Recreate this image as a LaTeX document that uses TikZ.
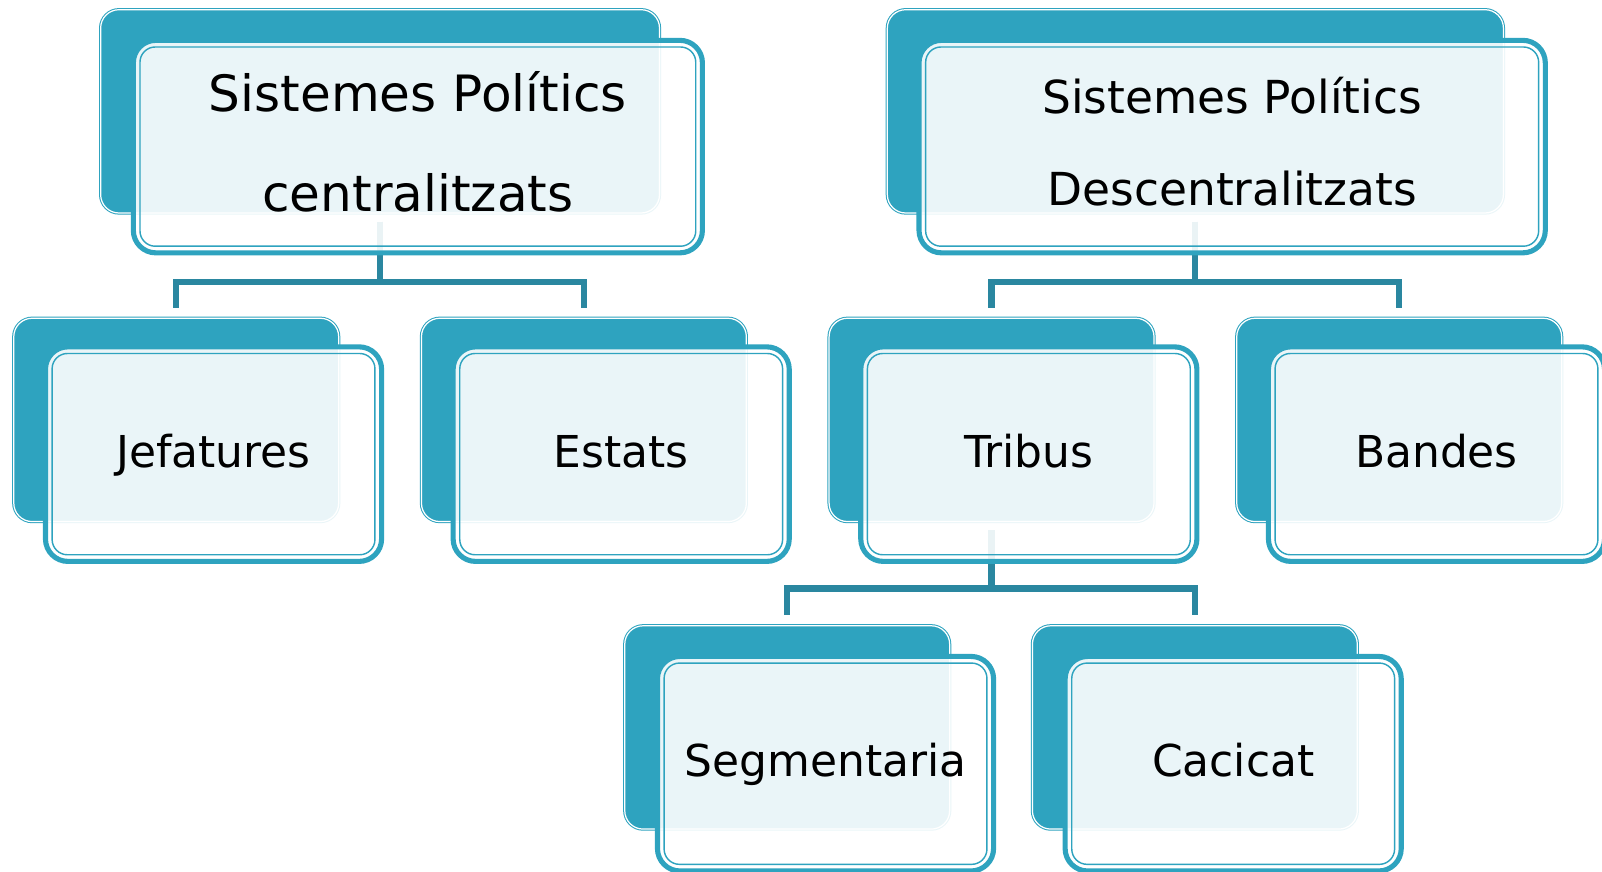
\documentclass[tikz,border=0pt]{standalone}
\usepackage{fontspec}
\setmainfont{DejaVu Sans}
\definecolor{smartteal}{HTML}{2EA3BF}
\definecolor{linkteal}{HTML}{2A87A0}
\tikzset{
  back/.style={rectangle, rounded corners=18pt, fill=smartteal, draw=smartteal,
    double=white, double distance=1.2pt, line width=1pt, minimum height=199pt, inner sep=0pt},
  front/.style={rectangle, rounded corners=22pt, fill=white, fill opacity=.9, text opacity=1,
    draw=smartteal, line width=5pt, minimum height=208pt, inner sep=0pt, align=center},
  card/.style={front, minimum width=329pt, minimum height=210pt, text height=34pt, text depth=8pt,
    font=\fontsize{43}{50}\selectfont},
  inline/.style={draw=smartteal, line width=1.4pt, rounded corners=15pt},
  link/.style={draw=linkteal, line width=6pt, shorten <=8pt, shorten >=10pt}
}
\begin{document}
\begin{tikzpicture}[x=1pt, y=1pt]
                \useasboundingbox (0,0) rectangle (1568,853);
                % back cards
                \node[back, minimum width=547pt] (cent) at (372,744) {};
                \node[back, minimum width=603pt] (desc) at (1170,744) {};
                \node[back, minimum width=318pt] (jef) at (172.5,442) {};
                \node[back, minimum width=318pt] (est) at (571.5,442) {};
                \node[back, minimum width=318pt] (tri) at (970.5,442) {};
                \node[back, minimum width=318pt] (ban) at (1369.5,442) {};
                \node[back, minimum width=318pt] (seg) at (770.5,141) {};
                \node[back, minimum width=318pt] (cac) at (1169.5,141) {};
                % connectors
                \draw[link] (cent.south) -- ++(0,-67) -| (jef.north);
                \draw[link] (cent.south) -- ++(0,-67) -| (est.north);
                \draw[link] (desc.south) -- ++(0,-67) -| (tri.north);
                \draw[link] (desc.south) -- ++(0,-67) -| (ban.north);
                \draw[link] (tri.south) -- ++(0,-65) -| (seg.north);
                \draw[link] (tri.south) -- ++(0,-65) -| (cac.north);
                % front cards
                \node[front, minimum width=557pt, text depth=10pt, font=\fontsize{49}{98}\selectfont] (cent-f) at (409,709.5) {Sistemes Polítics\\centralitzats};
                \node[front, minimum width=613pt, text depth=10pt, font=\fontsize{44.5}{90}\selectfont] (desc-f) at (1206,709.5) {Sistemes Polítics\\Descentralitzats};
                \node[card] (jef-f) at (209,408.5) {Jefatures};
                \node[card] (est-f) at (608,408.5) {Estats};
                \node[card] (tri-f) at (1007,408.5) {Tribus};
                \node[card] (ban-f) at (1406,408.5) {Bandes};
                \node[card] (seg-f) at (808,105.5) {Segmentaria};
                \node[card] (cac-f) at (1207,105.5) {Cacicat};
                \foreach \n in {cent,desc,jef,est,tri,ban,seg,cac}
                  \draw[inline] ([shift={(9pt,9pt)}]\n-f.south west) rectangle ([shift={(-9pt,-9pt)}]\n-f.north east);
            \end{tikzpicture}
\end{document}
